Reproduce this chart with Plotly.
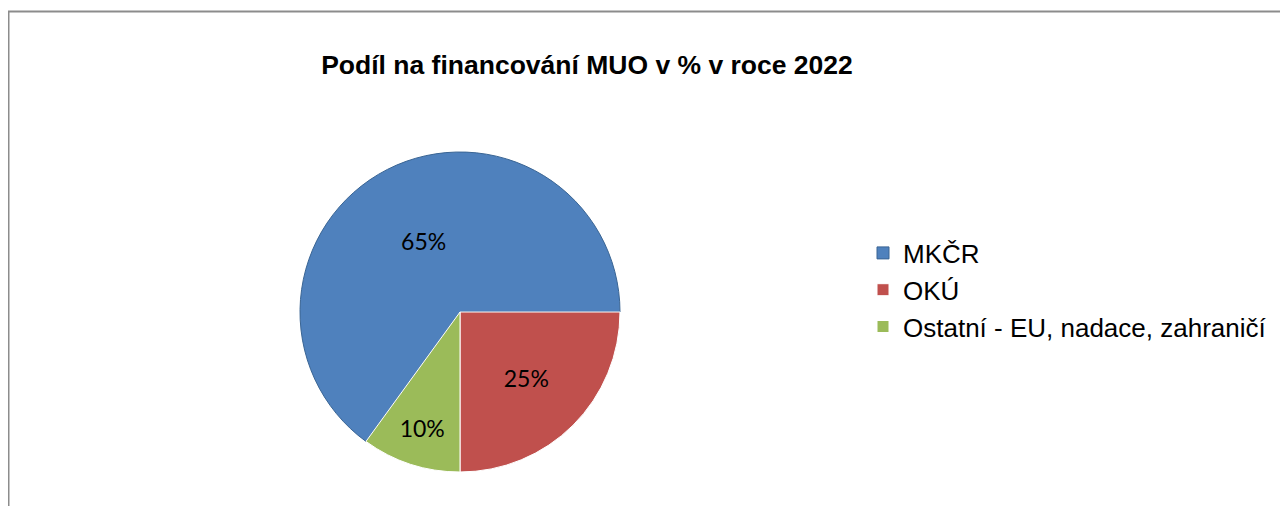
import plotly.graph_objects as go

labels = ["MKČR", "OKÚ", "Ostatní - EU, nadace, zahraničí"]
values = [65, 25, 10]
colors = ["#4F81BD", "#C0504D", "#9BBB59"]
line_colors = ["#3A6594", "#FFFFFF", "#FFFFFF"]
title_text = "Podíl na financování MUO v % v roce 2022"

W, H = 1288, 506
OFF = 8  # page body margin

cx, cy, r = 460 - OFF, 312 - OFF, 160

fig = go.Figure()
fig.add_trace(go.Pie(
    labels=labels,
    values=values,
    sort=False,
    direction="clockwise",
    rotation=216,
    marker=dict(colors=colors, line=dict(color=line_colors, width=1)),
    textinfo="percent",
    texttemplate="%{percent:.0%}",
    textposition="inside",
    insidetextorientation="horizontal",
    textfont=dict(family="Lato, Noto Sans, sans-serif", size=23, color="#000000"),
    domain=dict(x=[(cx - r) / W, (cx + r) / W], y=[1 - (cy + r) / H, 1 - (cy - r) / H]),
    showlegend=True,
))

fig.update_layout(
    width=W, height=H,
    margin=dict(l=0, r=0, t=0, b=0),
    paper_bgcolor="white",
    title=dict(text="<b>" + title_text + "</b>", x=(587 - OFF) / W, xanchor="center",
               y=1 - (65 - OFF) / H, yanchor="middle",
               font=dict(family="Arial, Liberation Sans, sans-serif", size=26.5, color="#000000")),
    legend=dict(x=(863 - OFF) / W, xanchor="left", y=1 - (290 - OFF) / H, yanchor="middle",
                font=dict(family="Arial, Liberation Sans, sans-serif", size=26, color="#000000"),
                itemwidth=30, tracegroupgap=0),
    shapes=[dict(type="rect", xref="paper", yref="paper",
                 x0=0.5 / W, x1=1.01, y0=-0.05, y1=1 - 3.5 / H,
                 line=dict(color="#8C8C8C", width=2), fillcolor="rgba(0,0,0,0)")],
)

fig.write_html("out.html")
